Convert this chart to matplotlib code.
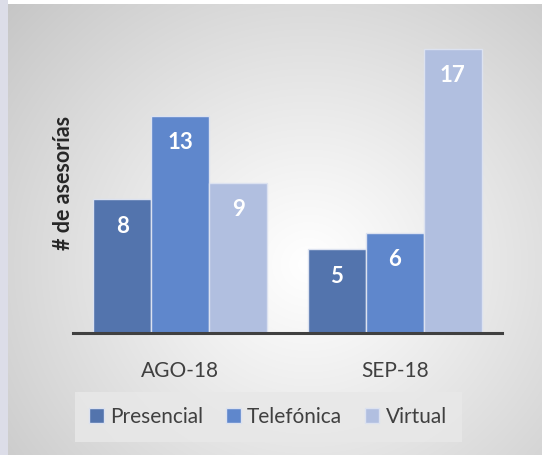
import numpy as np
import matplotlib.pyplot as plt
from matplotlib.patches import Rectangle

plt.rcParams['font.family'] = ['Lato', 'DejaVu Sans']

meses = ['AGO-18', 'SEP-18']
presencial = [8, 5]
telefonica = [13, 6]
virtual = [9, 17]
series = ['Presencial', 'Telefónica', 'Virtual']
colores = ['#5374AD', '#5F87CC', '#B1BFE0']

W, H = 542, 455
fig = plt.figure(figsize=(W / 100, H / 100), dpi=100)
fig.patch.set_facecolor('white')

# franja lateral izquierda
fig.patches.append(Rectangle((0, 0), 8 / W, 1, transform=fig.transFigure,
                             facecolor='#DCDDE8', edgecolor='none', zorder=0))

# fondo con degradado radial
bg = fig.add_axes([8 / W, 0, 1 - 8 / W, 1 - 4 / H], zorder=0)
yy, xx = np.mgrid[0:H - 4, 0:W - 8]
r = np.sqrt((xx - 300) ** 2 + ((yy - 260) * 1.05) ** 2) / 400
val = 1 - 0.22 * np.clip(r, 0, 1.2) ** 1.1
bg.imshow(np.dstack([val, val, val]), aspect='auto', interpolation='bilinear')
bg.axis('off')

ax = fig.add_axes([73 / W, (H - 333) / H, 429 / W, 301 / H], zorder=1)
ax.patch.set_alpha(0)

x = np.arange(len(meses))
ancho = 0.27
valores = [presencial, telefonica, virtual]
for i, (nombre, vals, c) in enumerate(zip(series, valores, colores)):
    barras = ax.bar(x + (i - 1) * ancho, vals, ancho, color=c, label=nombre,
                    edgecolor='#DCE2F0', linewidth=1)
    for b, v in zip(barras, vals):
        ax.annotate(str(v), (b.get_x() + b.get_width() / 2, v),
                    xytext=(0, -27), textcoords='offset pixels',
                    ha='center', va='center', color='white',
                    fontsize=16, fontweight='bold')

ax.set_xlim(-0.5, 1.5)
ax.set_ylim(0, 18)
for s in ['top', 'right', 'left']:
    ax.spines[s].set_visible(False)
ax.spines['bottom'].set_color('#404040')
ax.spines['bottom'].set_linewidth(2.2)
ax.set_yticks([])
ax.set_xticks(x)
ax.set_xticklabels(meses, fontsize=15, color='#404040')
ax.tick_params(axis='x', length=0, pad=20)

fig.text(63 / W, 1 - 183 / H, '# de asesorías', rotation=90, ha='center',
         va='center', fontsize=15.5, fontweight='bold', color='#262626')

leg = fig.legend(loc='center', bbox_to_anchor=(268 / W, 1 - 417 / H), ncol=3,
                 fontsize=15, frameon=True, fancybox=False, handlelength=0.7,
                 handleheight=0.7, handletextpad=0.3, columnspacing=1.1,
                 borderpad=0.7)
leg.get_frame().set_facecolor('#E8E8E8')
leg.get_frame().set_edgecolor('none')
leg.get_frame().set_alpha(0.85)
for t in leg.get_texts():
    t.set_color('#404040')

fig.savefig('out.png', dpi=100)
